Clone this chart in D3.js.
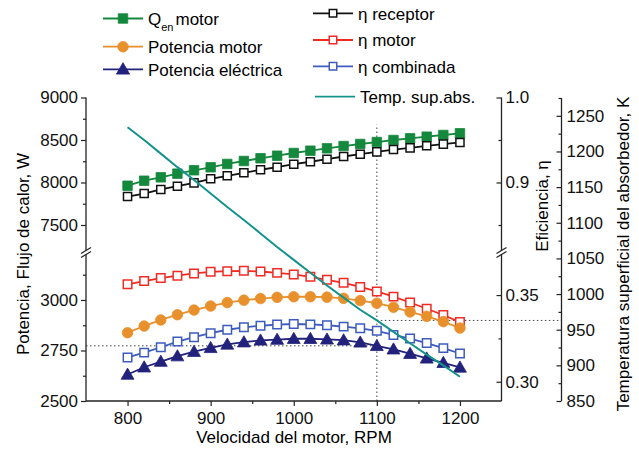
<!DOCTYPE html>
<html><head><meta charset="utf-8">
<script src="https://cdn.jsdelivr.net/npm/d3@7"></script>
<style>body{margin:0;background:#fff}svg{display:block;font-family:"Liberation Sans",Arial,sans-serif}</style>
</head><body><svg id="c" width="639" height="459"></svg>
<script>
// ---------------- data ----------------
const rpm = [800,820,840,860,880,900,920,940,960,980,1000,1020,1040,1060,1080,1100,1120,1140,1160,1180,1200];
const qEnMotor = [7962,8021,8061,8104,8144,8179,8218,8253,8285,8315,8347,8374,8402,8429,8453,8476,8500,8520,8539,8559,8579];
const potMotor = [2838,2871,2901,2927,2950,2970,2987,2999,3007,3013,3016,3016,3014,3008,2997,2984,2964,2941,2919,2893,2861];
const potElec = [2631,2667,2695,2722,2744,2763,2780,2791,2800,2804,2808,2808,2805,2801,2790,2773,2756,2734,2711,2689,2666];
const etaReceptor = [0.8835,0.887,0.8918,0.8956,0.8996,0.9044,0.9079,0.9114,0.915,0.918,0.9215,0.9244,0.9274,0.9306,0.9333,0.9361,0.9388,0.9408,0.9432,0.9451,0.9471];
const etaMotor = [0.3562,0.3581,0.3598,0.3612,0.3625,0.3634,0.3638,0.3640,0.3636,0.3628,0.3619,0.3605,0.3588,0.3571,0.3547,0.3521,0.3491,0.3457,0.3421,0.3385,0.3344];
const etaComb = [0.3140,0.3168,0.3199,0.3232,0.3257,0.3280,0.3300,0.3314,0.3323,0.3330,0.3333,0.3331,0.3326,0.3318,0.3308,0.3294,0.3270,0.3249,0.3223,0.3194,0.3163];
const tempSup = [1234,1216,1197,1178,1160,1141,1122,1104,1085,1066,1048,1030,1012,995,978,963,947,931,915,900,884];

const xTicks = [800,900,1000,1100,1200];
const xMinor = [850,950,1050,1150];
const leftUpperTicks = [7500,8000,8500,9000];
const leftUpperMinor = [7750,8250,8750];
const leftLowerTicks = [2500,2750,3000];
const leftLowerMinor = [2625,2875,3125];
const etaUpperTicks = [0.9,1.0];
const etaUpperMinor = [0.85,0.95];
const etaLowerTicks = [0.30,0.35];
const etaLowerMinor = [0.325];
const tempTicks = [850,900,950,1000,1050,1100,1150,1200,1250];
const tempMinor = [875,925,975,1025,1075,1125,1175,1225,1275];

const refRpm = 1100;      // vertical dotted guide
const refQTop = 8680;     // top of vertical guide (upper heat-flux scale)

// ---------------- layout ----------------
const FONT = 17;
const X0 = 86, X1 = 501.5;
const YTOP = 97.5, YUB = 250.5, YLT = 254.5, YBOT = 401;
const XTEMP = 561.5;

const svg = d3.select("#c");
const x = d3.scaleLinear().domain([750,1250]).range([X0,X1]);
const yQU = d3.scaleLinear().domain([7200,9000]).range([YUB,YTOP]);
const yQL = d3.scaleLinear().domain([2500,3225]).range([YBOT,YLT]);
const yEU = d3.scaleLinear().domain([0.82,1.0]).range([YUB,YTOP]);
const yEL = d3.scaleLinear().domain([0.2889,0.3734]).range([YBOT,YLT]);
const yT = d3.scaleLinear().domain([850,1275]).range([YBOT,98]);

const C = {
  green:"#14883c", black:"#111111", orange:"#e8902c", red:"#ef2b24",
  navy:"#22227c", blue:"#3d5cbd", teal:"#14938d", axis:"#222"
};

// ---------------- guides ----------------
const gd = svg.append("g").attr("stroke","#444").attr("stroke-width",1).attr("stroke-dasharray","1.5,2.5").attr("fill","none");
const ri = rpm.indexOf(refRpm);
gd.append("line").attr("x1",x(refRpm)).attr("x2",x(refRpm)).attr("y1",yQL(2500)).attr("y2",yQU(refQTop));
gd.append("line").attr("x1",X0).attr("x2",x(refRpm)).attr("y1",yQL(potElec[ri])).attr("y2",yQL(potElec[ri]));
gd.append("line").attr("x1",x(refRpm)).attr("x2",XTEMP).attr("y1",yT(tempSup[ri])).attr("y2",yT(tempSup[ri]));

// ---------------- axes ----------------
function styleAxis(g){
  g.attr("font-size",FONT).attr("font-family",'"Liberation Sans",Arial,sans-serif');
  g.select(".domain").remove();
  g.selectAll("line").attr("stroke",C.axis).attr("stroke-width",1.2);
  g.selectAll("text").attr("fill","#111");
}
// x axis
svg.append("g").attr("transform",`translate(0,${YBOT})`)
  .call(d3.axisBottom(x).tickValues(xTicks).tickSize(5).tickPadding(6).tickFormat(d3.format("d"))).call(styleAxis);
svg.append("g").attr("transform",`translate(0,${YBOT})`)
  .call(d3.axisBottom(x).tickValues(xMinor).tickSize(3).tickFormat("")).call(styleAxis);
// left axis
const fmtInt = d3.format("d");
[[yQU,leftUpperTicks,leftUpperMinor],[yQL,leftLowerTicks,leftLowerMinor]].forEach(([s,t,m])=>{
  svg.append("g").attr("transform",`translate(${X0},0)`)
    .call(d3.axisLeft(s).tickValues(t).tickSize(5).tickPadding(3).tickFormat(fmtInt)).call(styleAxis);
  svg.append("g").attr("transform",`translate(${X0},0)`)
    .call(d3.axisLeft(s).tickValues(m).tickSize(3).tickFormat("")).call(styleAxis);
});
// eta axis (ticks inward)
[[yEU,etaUpperTicks,etaUpperMinor,d3.format(".1f")],[yEL,etaLowerTicks,etaLowerMinor,d3.format(".2f")]].forEach(([s,t,m,f])=>{
  svg.append("g").attr("transform",`translate(${X1},0)`)
    .call(d3.axisRight(s).tickValues(t).tickSizeInner(-5).tickSizeOuter(0).tickPadding(4).tickFormat(f)).call(styleAxis);
  svg.append("g").attr("transform",`translate(${X1},0)`)
    .call(d3.axisRight(s).tickValues(m).tickSizeInner(-3).tickSizeOuter(0).tickFormat("")).call(styleAxis);
});
// temperature axis
svg.append("g").attr("transform",`translate(${XTEMP},0)`)
  .call(d3.axisRight(yT).tickValues(tempTicks).tickSizeInner(-5).tickSizeOuter(0).tickPadding(5).tickFormat(fmtInt)).call(styleAxis);
svg.append("g").attr("transform",`translate(${XTEMP},0)`)
  .call(d3.axisRight(yT).tickValues(tempMinor).tickSizeInner(-3).tickSizeOuter(0).tickFormat("")).call(styleAxis);

// axis lines
const al = svg.append("g").attr("stroke",C.axis).attr("stroke-width",1.3).attr("fill","none");
al.append("line").attr("x1",X0).attr("x2",X0).attr("y1",YTOP).attr("y2",YBOT);
al.append("line").attr("x1",X1).attr("x2",X1).attr("y1",YTOP).attr("y2",YBOT);
al.append("line").attr("x1",X0).attr("x2",X1).attr("y1",YBOT).attr("y2",YBOT);
al.append("line").attr("x1",XTEMP).attr("x2",XTEMP).attr("y1",yT(1275)).attr("y2",yT(850));
// break marks
const yBr = (YUB+YLT)/2;
[X0,X1].forEach(xx=>{
  svg.append("polygon").attr("points",`${xx-6},${yBr+5} ${xx+6},${yBr-1} ${xx+6},${yBr-5} ${xx-6},${yBr+1}`).attr("fill","#fff");
  [-2,2].forEach(o=>{
    svg.append("line").attr("x1",xx-5).attr("x2",xx+5).attr("y1",yBr+3+o).attr("y2",yBr-3+o)
      .attr("stroke",C.axis).attr("stroke-width",1.2);
  });
});

// ---------------- series ----------------
function series(vals, ys, color, marker, filled, size){
  const pts = rpm.map((r,i)=>[x(r), ys(vals[i])]);
  svg.append("path").attr("d",d3.line()(pts)).attr("fill","none").attr("stroke",color).attr("stroke-width",1.8);
  const sym = d3.symbol().type(marker).size(size);
  svg.append("g").selectAll("path").data(pts).join("path")
    .attr("transform",d=>`translate(${d[0]},${d[1] + (marker===d3.symbolTriangle?1:0)})`)
    .attr("d",sym())
    .attr("fill",filled?color:"#fff").attr("stroke",color).attr("stroke-width",filled?0.8:1.5);
}
series(qEnMotor, yQU, C.green, d3.symbolSquare, true, 90);
series(etaReceptor, yEU, C.black, d3.symbolSquare, false, 66);
series(etaMotor, yEL, C.red, d3.symbolSquare, false, 72);
series(potMotor, yQL, C.orange, d3.symbolCircle, true, 88);
series(etaComb, yEL, C.blue, d3.symbolSquare, false, 72);
series(potElec, yQL, C.navy, d3.symbolTriangle, true, 72);
// temperature
svg.append("path").attr("d",d3.line()(rpm.map((r,i)=>[x(r),yT(tempSup[i])])))
  .attr("fill","none").attr("stroke",C.teal).attr("stroke-width",2);

// ---------------- titles ----------------
const tf = '"Liberation Sans",Arial,sans-serif';
svg.append("text").attr("x",294).attr("y",443).attr("text-anchor","middle").attr("font-size",FONT).attr("font-family",tf)
  .text("Velocidad del motor, RPM");
svg.append("text").attr("transform","translate(29,254) rotate(-90)").attr("text-anchor","middle").attr("font-size",FONT).attr("font-family",tf)
  .text("Potencia, Flujo de calor, W");
svg.append("text").attr("transform","translate(547.5,206) rotate(-90)").attr("text-anchor","middle").attr("font-size",FONT).attr("font-family",tf)
  .text("Eficiencia, η");
svg.append("text").attr("transform","translate(629,254) rotate(-90)").attr("text-anchor","middle").attr("font-size",FONT).attr("font-family",tf)
  .text("Temperatura superficial del absorbedor, K");

// ---------------- legend ----------------
const legL = [
  {c:C.green, m:d3.symbolSquare, f:true, s:90, y:18.5},
  {c:C.orange, m:d3.symbolCircle, f:true, s:88, y:46.7, t:"Potencia motor"},
  {c:C.navy, m:d3.symbolTriangle, f:true, s:76, y:69.3, t:"Potencia eléctrica"}
];
const legR = [
  {c:C.black, m:d3.symbolSquare, f:false, s:56, y:13.3, t:"η receptor"},
  {c:C.red, m:d3.symbolSquare, f:false, s:56, y:40, t:"η motor"},
  {c:C.blue, m:d3.symbolSquare, f:false, s:56, y:66.3, t:"η combinada"}
];
function legItem(it, x0, x1, tx){
  const g = svg.append("g");
  g.append("line").attr("x1",x0).attr("x2",x1).attr("y1",it.y).attr("y2",it.y).attr("stroke",it.c).attr("stroke-width",1.8);
  if(it.m) g.append("path").attr("transform",`translate(${(x0+x1)/2},${it.y + (it.m===d3.symbolTriangle?1:0)})`)
    .attr("d",d3.symbol().type(it.m).size(it.s)()).attr("fill",it.f?it.c:"#fff").attr("stroke",it.c).attr("stroke-width",it.f?0.8:1.5);
  if(it.t) g.append("text").attr("x",tx).attr("y",it.y+6.2).attr("font-size",FONT).attr("font-family",tf).text(it.t);
  return g;
}
legL.forEach(it=>legItem(it,103,143,148));
legR.forEach(it=>legItem(it,313,353,358));
legItem({c:C.teal, y:96.7, t:"Temp. sup.abs."},315,355,360);
// Q_en motor label with subscript
const qt = svg.append("text").attr("x",148).attr("y",25).attr("font-size",FONT).attr("font-family",tf);
qt.append("tspan").text("Q");
qt.append("tspan").attr("font-size",11).attr("dy",6).text("en");
qt.append("tspan").attr("dy",-6).attr("dx",2).text("motor");
</script></body></html>
